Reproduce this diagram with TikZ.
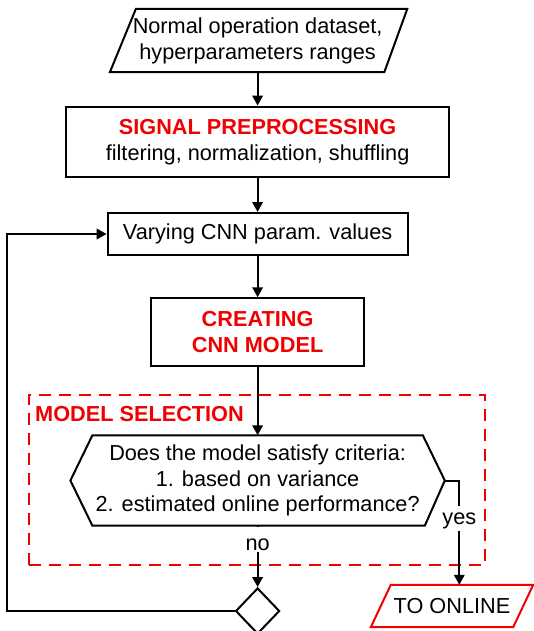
\documentclass[tikz,border=0pt]{standalone}
\usepackage{fontspec}
\setmainfont{Liberation Sans}
\usetikzlibrary{arrows.meta,shapes.geometric}
\definecolor{myred}{RGB}{240,0,0}
\tikzset{
  txt/.style={font=\fontsize{21.7}{25.8}\selectfont, align=center, inner sep=0pt},
  boxline/.style={line width=2pt, line join=miter},
  stepbox/.style={txt, draw, boxline},
  arr/.style={line width=2pt, -{Triangle[width=10.5pt,length=10pt]}},
  lab/.style={font=\fontsize{21.7}{25.8}\selectfont, fill=white, inner sep=1.5pt},
  hl/.style={font=\fontsize{21.7}{25.8}\selectfont\bfseries, text=myred},
  selbox/.style={draw=myred, line width=2pt, dash pattern=on 12pt off 8pt, inner sep=0pt}
}
\begin{document}
\begin{tikzpicture}[x=1pt,y=-1pt]
\useasboundingbox (0,0) rectangle (534,631);
% selection frame
\node[selbox, minimum width=456pt, minimum height=170pt] (sel) at (257.2,480) {};
\node[hl, anchor=west, inner sep=0pt] (seltitle) at ([xshift=6.8pt, yshift=-20.5pt]sel.north west) {MODEL SELECTION};
% input
\node[txt, minimum width=295pt, minimum height=63pt] (inp) at (257.6,40.5) {Normal operation dataset,\\hyperparameters ranges};
\draw[boxline] ([xshift=26pt]inp.north west) -- ([xshift=2pt]inp.north east) -- ([xshift=-21pt]inp.south east) -- (inp.south west) -- cycle;
% boxes
\node[stepbox, minimum width=383pt, minimum height=70.5pt] (sig) at (257.6,141.8) {{\bfseries\color{myred}SIGNAL PREPROCESSING}\\filtering, normalization, shuffling};
\node[stepbox, minimum width=300pt, minimum height=42pt] (var) at (257.6,234) {Varying CNN param. values};
\node[stepbox, minimum width=213pt, minimum height=67.5pt] (cnn) at (257.6,332) {{\bfseries\color{myred}CREATING}\\{\bfseries\color{myred}CNN MODEL}};
% hexagon decision
\node[txt, minimum width=374pt, minimum height=90pt] (hex) at (257.6,480.5) {Does the model satisfy criteria:\\1. based on variance\\2. estimated online performance?};
\draw[boxline] (hex.west) -- ([xshift=22pt]hex.north west) -- ([xshift=-22pt]hex.north east) -- (hex.east) -- ([xshift=-20pt]hex.south east) -- ([xshift=22pt]hex.south west) -- cycle;
% diamond
\node[diamond, draw, boxline, minimum width=44pt, minimum height=46pt, inner sep=0pt] (dia) at (257.6,611) {};
% output
\node[txt, minimum width=162pt, minimum height=42pt] (out) at (452,606) {TO ONLINE};
\draw[boxline, draw=myred] ([xshift=20pt]out.north west) -- (out.north east) -- ([xshift=-20pt]out.south east) -- (out.south west) -- cycle;
% connectors
\draw[arr] (inp.south) -- (sig.north);
\draw[arr] (sig.south) -- (var.north);
\draw[arr] (var.south) -- (cnn.north);
\draw[arr] (cnn.south) -- (hex.north);
\draw[arr] (hex.south) -- node[lab, text height=22pt, text depth=0pt, pos=0.232] (nolab) {no} (dia.north);
\coordinate (yc) at ([xshift=14.5pt]hex.east);
\draw[arr] (hex.east) -- (yc) -- node[lab, text height=17.5pt, text depth=4.5pt, pos=0.364] (yeslab) {yes} (yc |- out.north);
\draw[arr] (dia.west) -- ++(-227.5,0) |- (var.west);
\end{tikzpicture}
\end{document}
